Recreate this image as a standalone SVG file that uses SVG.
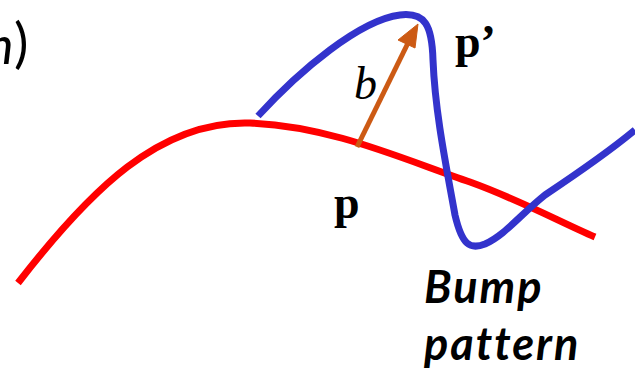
<svg xmlns="http://www.w3.org/2000/svg" width="635" height="370" viewBox="0 0 635 370">
<defs>
<style>
.curve{fill:none;stroke-width:7;stroke-linecap:butt;stroke-linejoin:round}
.serif{font-family:"Liberation Serif","DejaVu Serif",serif;fill:#000}
.sans{font-family:"Lato","Open Sans","Liberation Sans",sans-serif;fill:#000}
.cap{font-size:45px;font-style:italic;font-weight:bold;letter-spacing:2px}
</style>
</defs>
<rect width="635" height="370" fill="#fff"/>
<text class="sans" x="-14" y="64" font-size="52" font-style="italic">n</text>
<text class="sans" x="14" y="62" font-size="54">)</text>
<g id="surface">
<path class="curve" stroke="#ff0000" d="M18,283 C90,190 160,120 250,123 C330,126 400,158 470,182 C520,200 560,222 595,237"/>
</g>
<g id="bumped">
<path class="curve" stroke="#3333cc" d="M258,116 C300,70 360,20 400,15 C425,12 432,25 433,60 C435,110 445,160 455,215 C462,245 470,250 485,244 C505,235 520,215 545,195 C575,175 605,155 635,130"/>
</g>
<g id="connectors">
<line x1="357" y1="147" x2="408" y2="43" stroke="#cc5a14" stroke-width="5"/>
<polygon points="418,24 398,40 415,48" fill="#cc5a14" stroke="#cc5a14" stroke-width="1" stroke-linejoin="round"/>
</g>
<g id="labels">
<text class="serif" x="354" y="99" font-size="46" font-style="italic">b</text>
<text class="serif" x="455" y="57" font-size="46" font-weight="bold">p’</text>
<text class="serif" x="334" y="218" font-size="46" font-weight="bold">p</text>
<text class="sans cap" x="424" y="303">Bump</text>
<text class="sans cap" x="424" y="360">pattern</text>
</g>
</svg>
